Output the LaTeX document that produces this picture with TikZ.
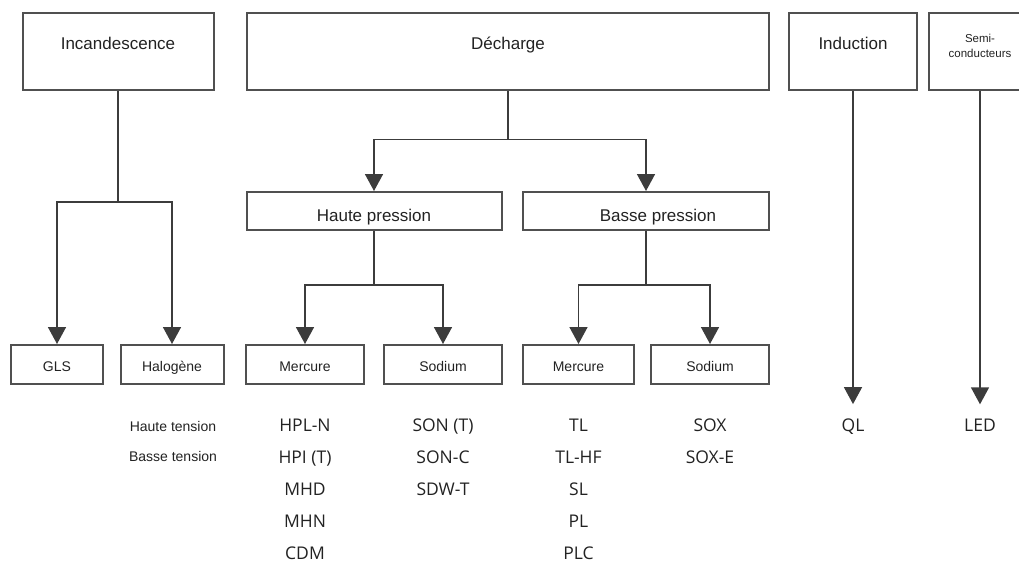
\documentclass[tikz,border=0pt]{standalone}
\usepackage{fontspec}
\setmainfont{Liberation Sans}
\newfontfamily\lampfont{Open Sans}
\usetikzlibrary{arrows.meta}
\definecolor{linegray}{HTML}{3C3C3C}
\definecolor{boxgray}{HTML}{505050}
\definecolor{textgray}{HTML}{222222}
\tikzset{
  topbox/.style={draw=boxgray, line width=2pt, minimum height=77pt, inner sep=0pt,
    text height=12pt, text depth=17pt, text=textgray, font=\fontsize{17}{20}\selectfont},
  midbox/.style={draw=boxgray, line width=2pt, minimum height=38pt, inner sep=0pt,
    text height=20pt, text depth=0pt, text=textgray, font=\fontsize{17}{20}\selectfont},
  lowbox/.style={draw=boxgray, line width=2pt, minimum height=39pt, inner sep=0pt,
    text height=14pt, text depth=0pt, text=textgray, font=\fontsize{14}{16}\selectfont},
  lamp/.style={anchor=base, inner sep=0pt, text=textgray, font=\lampfont\fontsize{17.5}{20}\selectfont},
  volt/.style={anchor=base, inner sep=0pt, text=textgray, font=\fontsize{14}{16}\selectfont},
  link/.style={draw=linegray, line width=1.6pt},
  arr/.style={link, -{Triangle[width=18pt,length=17pt]}},
}
\begin{document}
\begin{tikzpicture}[x=1pt, y=-1pt]
  \useasboundingbox (0,0) rectangle (1019,563);
  % top row
  \node[topbox, minimum width=191pt] (incand) at (118,51.5) {Incandescence};
  \node[topbox, minimum width=522pt] (decharge) at (508,51.5) {Décharge};
  \node[topbox, minimum width=128pt] (induction) at (853,51.5) {Induction};
  \node[topbox, minimum width=102pt,
    label={[name=semitext, yshift=6pt, align=center, text=textgray,
      font=\fontsize{11.5}{15}\selectfont]center:Semi-\\conducteurs}] (semi) at (980,51.5) {};
  % pressure
  \node[midbox, minimum width=255pt] (haute) at (374,211) {Haute pression};
  \node[midbox, minimum width=246pt] (basse) at (646,211) {\hspace*{24pt}Basse pression};
  % bottom row
  \node[lowbox, minimum width=92pt] (gls) at (57,364.5) {GLS};
  \node[lowbox, minimum width=103pt] (halo) at (172,364.5) {Halogène};
  \node[lowbox, minimum width=118pt] (merc1) at (305,364.5) {Mercure};
  \node[lowbox, minimum width=118pt] (sod1) at (443,364.5) {Sodium};
  \node[lowbox, minimum width=111pt] (merc2) at (578.5,364.5) {Mercure};
  \node[lowbox, minimum width=118pt] (sod2) at (710,364.5) {Sodium};
  % lamp types
  \node[volt] (hte) at (173,431) {Haute tension};
  \node[volt] (bte) at (173,461.5) {Basse tension};
  \node[lamp] (hpln) at (305,431) {HPL-N};
  \node[lamp] (hpit) at (305,463.5) {HPI (T)};
  \node[lamp] (mhd) at (305,495.5) {MHD};
  \node[lamp] (mhn) at (305,527.5) {MHN};
  \node[lamp] (cdm) at (305,559) {CDM};
  \node[lamp] (sont) at (443,431) {SON (T)};
  \node[lamp] (sonc) at (443,463.5) {SON-C};
  \node[lamp] (sdwt) at (443,495.5) {SDW-T};
  \node[lamp] (tl) at (578.5,431) {TL};
  \node[lamp] (tlhf) at (578.5,463.5) {TL-HF};
  \node[lamp] (sl) at (578.5,495.5) {SL};
  \node[lamp] (pl) at (578.5,527.5) {PL};
  \node[lamp] (plc) at (578.5,559) {PLC};
  \node[lamp] (sox) at (710,431) {SOX};
  \node[lamp] (soxe) at (710,463.5) {SOX-E};
  \node[lamp] (ql) at (853,431) {QL};
  \node[lamp] (led) at (980,431) {LED};
  % junctions
  \coordinate (jinc) at (118,202);
  \coordinate (jdec) at (508,139.5);
  \coordinate (jhp) at (374,285);
  \coordinate (jbp) at (646,285);
  % connectors
  \draw[link] (incand.south) -- (jinc);
  \draw[arr] (jinc) -| (gls.north);
  \draw[arr] (jinc) -| (halo.north);
  \draw[link] (decharge.south) -- (jdec);
  \draw[arr] (jdec) -| (haute.north);
  \draw[arr] (jdec) -| (basse.north);
  \draw[link] (haute.south) -- (jhp);
  \draw[arr] (jhp) -| (merc1.north);
  \draw[arr] (jhp) -| (sod1.north);
  \draw[link] (basse.south) -- (jbp);
  \draw[arr] (jbp) -| (merc2.north);
  \draw[arr] (jbp) -| (sod2.north);
  \draw[arr, shorten >=14pt] (induction.south) -- (ql.north);
  \draw[arr, shorten >=14pt] (semi.south) -- (led.north);
\end{tikzpicture}
\end{document}
